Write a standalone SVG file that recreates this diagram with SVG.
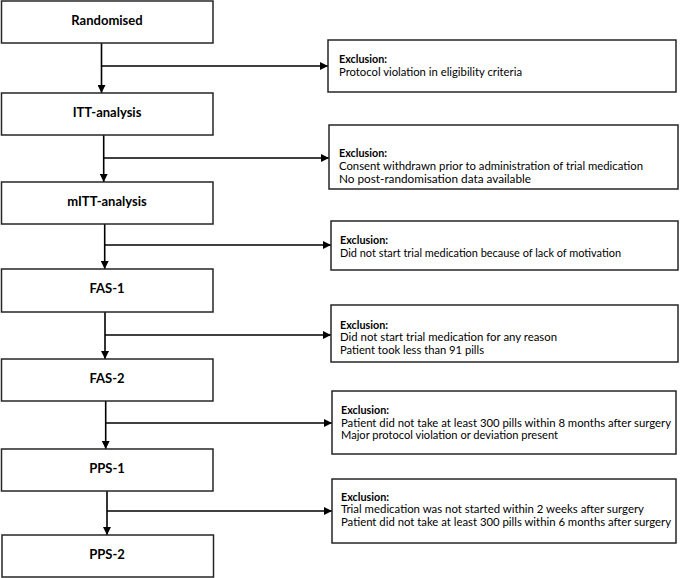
<svg xmlns="http://www.w3.org/2000/svg" width="685" height="578" viewBox="0 0 685 578">
<defs>
<marker id="ah" viewBox="0 0 10 10" refX="10" refY="5" markerWidth="10" markerHeight="8" markerUnits="userSpaceOnUse" orient="auto">
<path d="M0,0 L10,5 L0,10 Z" fill="#000"/>
</marker>
</defs>
<style>
.box{fill:#fff;stroke:#262626;stroke-width:1.5}
.lbl{font-family:Lato,"Liberation Sans",sans-serif;font-size:13px;font-weight:bold;fill:#000;text-anchor:middle}
.hd{font-family:Lato,"Liberation Sans",sans-serif;font-size:11px;font-weight:bold;fill:#000}
.tx{font-family:Lato,"Liberation Sans",sans-serif;font-size:11px;fill:#000}
.ln{fill:none;stroke:#000;stroke-width:1.6}
</style>
<rect width="685" height="578" fill="#fff"/>
<g id="connectors">
<line class="ln" x1="101.5" y1="43" x2="101.5" y2="93" marker-end="url(#ah)"/>
<line class="ln" x1="101.5" y1="66" x2="328" y2="66" marker-end="url(#ah)"/>
<line class="ln" x1="103.7" y1="135" x2="103.7" y2="182" marker-end="url(#ah)"/>
<line class="ln" x1="103.7" y1="158" x2="329" y2="158" marker-end="url(#ah)"/>
<line class="ln" x1="104.7" y1="224" x2="104.7" y2="269" marker-end="url(#ah)"/>
<line class="ln" x1="104.7" y1="245" x2="331" y2="245" marker-end="url(#ah)"/>
<line class="ln" x1="105" y1="312" x2="105" y2="359" marker-end="url(#ah)"/>
<line class="ln" x1="105" y1="335" x2="331" y2="335" marker-end="url(#ah)"/>
<line class="ln" x1="105.7" y1="401" x2="105.7" y2="449" marker-end="url(#ah)"/>
<line class="ln" x1="105.7" y1="423" x2="332" y2="423" marker-end="url(#ah)"/>
<line class="ln" x1="107" y1="491" x2="107" y2="535" marker-end="url(#ah)"/>
<line class="ln" x1="107" y1="511" x2="332" y2="511" marker-end="url(#ah)"/>
</g>
<g id="randomised">
<rect class="box" x="1.5" y="1" width="211.5" height="42"/>
<text class="lbl" x="107" y="25">Randomised</text>
</g>
<g id="itt">
<rect class="box" x="1.5" y="93" width="211.5" height="42"/>
<text class="lbl" x="107" y="117">ITT-analysis</text>
</g>
<g id="mitt">
<rect class="box" x="1.5" y="182" width="211.5" height="42"/>
<text class="lbl" x="107" y="206">mITT-analysis</text>
</g>
<g id="fas1">
<rect class="box" x="1.5" y="269" width="211.5" height="43"/>
<text class="lbl" x="107" y="293">FAS-1</text>
</g>
<g id="fas2">
<rect class="box" x="1.5" y="359" width="211.5" height="42"/>
<text class="lbl" x="107" y="383">FAS-2</text>
</g>
<g id="pps1">
<rect class="box" x="1.5" y="449" width="211.5" height="42"/>
<text class="lbl" x="107" y="473">PPS-1</text>
</g>
<g id="pps2">
<rect class="box" x="2" y="535" width="211.5" height="42"/>
<text class="lbl" x="107" y="559">PPS-2</text>
</g>
<g id="excl1">
<rect class="box" x="328" y="40" width="348" height="52"/>
<text class="hd" x="339" y="63" textLength="48" lengthAdjust="spacingAndGlyphs">Exclusion:</text>
<text class="tx" x="339" y="76" textLength="183" lengthAdjust="spacingAndGlyphs">Protocol violation in eligibility criteria</text>
</g>
<g id="excl2">
<rect class="box" x="329" y="125" width="349" height="64"/>
<text class="hd" x="339" y="157" textLength="48" lengthAdjust="spacingAndGlyphs">Exclusion:</text>
<text class="tx" x="339" y="170" textLength="304" lengthAdjust="spacingAndGlyphs">Consent withdrawn prior to administration of trial medication</text>
<text class="tx" x="339" y="182.5" textLength="192" lengthAdjust="spacingAndGlyphs">No post-randomisation data available</text>
</g>
<g id="excl3">
<rect class="box" x="331" y="221" width="347" height="49"/>
<text class="hd" x="340" y="244" textLength="48" lengthAdjust="spacingAndGlyphs">Exclusion:</text>
<text class="tx" x="340" y="257" textLength="281" lengthAdjust="spacingAndGlyphs">Did not start trial medication because of lack of motivation</text>
</g>
<g id="excl4">
<rect class="box" x="331" y="305" width="347" height="57"/>
<text class="hd" x="340" y="328.5" textLength="48" lengthAdjust="spacingAndGlyphs">Exclusion:</text>
<text class="tx" x="340" y="341" textLength="217" lengthAdjust="spacingAndGlyphs">Did not start trial medication for any reason</text>
<text class="tx" x="340" y="353.5" textLength="144" lengthAdjust="spacingAndGlyphs">Patient took less than 91 pills</text>
</g>
<g id="excl5">
<rect class="box" x="332" y="391" width="344" height="63"/>
<text class="hd" x="341" y="414" textLength="48" lengthAdjust="spacingAndGlyphs">Exclusion:</text>
<text class="tx" x="341" y="426.5" textLength="330" lengthAdjust="spacingAndGlyphs">Patient did not take at least 300 pills within 8 months after surgery</text>
<text class="tx" x="341" y="439" textLength="217" lengthAdjust="spacingAndGlyphs">Major protocol violation or deviation present</text>
</g>
<g id="excl6">
<rect class="box" x="332" y="479" width="344" height="64"/>
<text class="hd" x="341" y="500.5" textLength="48" lengthAdjust="spacingAndGlyphs">Exclusion:</text>
<text class="tx" x="341" y="513" textLength="303" lengthAdjust="spacingAndGlyphs">Trial medication was not started within 2 weeks after surgery</text>
<text class="tx" x="341" y="525.5" textLength="330" lengthAdjust="spacingAndGlyphs">Patient did not take at least 300 pills within 6 months after surgery</text>
</g>
</svg>
